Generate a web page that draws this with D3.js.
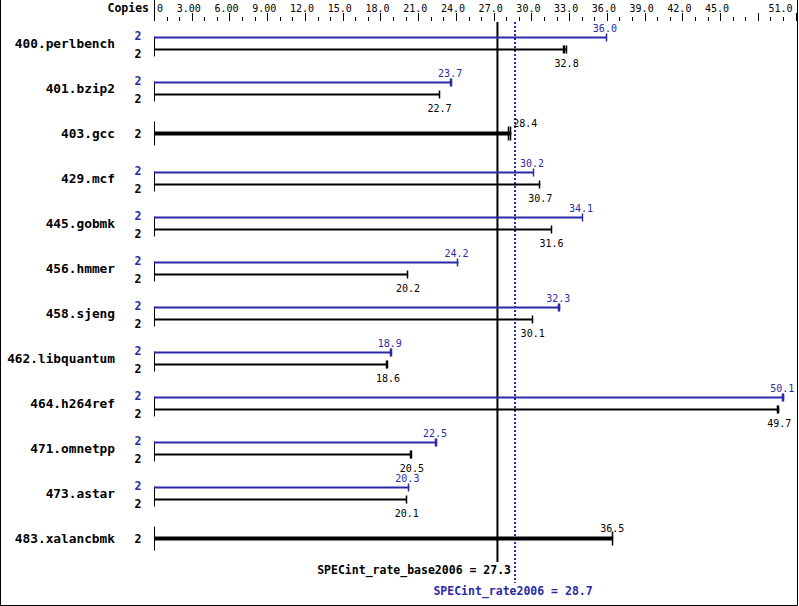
<!DOCTYPE html>
<html>
<head>
<meta charset="utf-8">
<script src="https://d3js.org/d3.v7.min.js"></script>
<style>
  body { margin: 0; background: #fff; }
  text { font-family: "DejaVu Sans Mono", monospace; }
</style>
</head>
<body>
<div id="chart"></div>
<script>
// benchmark names, top to bottom
var benchmarks = ["400.perlbench", "401.bzip2", "403.gcc", "429.mcf", "445.gobmk", "456.hmmer",
                  "458.sjeng", "462.libquantum", "464.h264ref", "471.omnetpp", "473.astar", "483.xalancbmk"];
// peak (blue) and base (black) ratios; null peak = only base reported
var peakValues = [36.0, 23.7, null, 30.2, 34.1, 24.2, 32.3, 18.9, 50.1, 22.5, 20.3, null];
var baseValues = [32.8, 22.7, 28.4, 30.7, 31.6, 20.2, 30.1, 18.6, 49.7, 20.5, 20.1, 36.5];
// individual run results (small end ticks)
var peakRuns = [[36.0], [23.6, 23.7], null, [30.2], [34.1], [24.2], [32.2, 32.3], [18.8, 18.9],
                [50.0, 50.1], [22.4, 22.5], [20.3], null];
var baseRuns = [[32.6, 32.7, 32.8], [22.7], [28.2, 28.4], [30.7], [31.6], [20.2], [30.1], [18.5, 18.6],
                [49.6, 49.7], [20.4, 20.5], [20.1], [36.5]];
var copies = 2;
var tickLabels = ["0", "3.00", "6.00", "9.00", "12.0", "15.0", "18.0", "21.0", "24.0", "27.0",
                  "30.0", "33.0", "36.0", "39.0", "42.0", "45.0", "", "51.0"];
var baseMean = 27.3, peakMean = 28.7;

var width = 799, height = 606;
var blue = "#2a2aa6";

var svg = d3.select("#chart").append("svg")
    .attr("width", width)
    .attr("height", height);

var x = d3.scaleLinear().domain([0, 51]).range([154, 795.6]);
var y = d3.scalePoint().domain(benchmarks).range([43.5, 538.5]);

// frame
svg.append("path")
    .attr("d", "M0.5,0V605.5H797.5V0")
    .attr("fill", "none").attr("stroke", "#000");

// top axis
svg.append("text").attr("x", 149).attr("y", 12).attr("text-anchor", "end")
    .attr("font-size", 11.5).attr("font-weight", "bold").text("Copies");
svg.append("line").attr("x1", 154.5).attr("x2", 154.5).attr("y1", 0).attr("y2", 21)
    .attr("stroke", "#000");

svg.selectAll(".minor").data(d3.range(1, 52)).enter().append("line")
    .attr("x1", function(d) { return Math.round(x(d)) + 0.5; })
    .attr("x2", function(d) { return Math.round(x(d)) + 0.5; })
    .attr("y1", function(d) { return d % 3 == 0 ? 13 : 17; })
    .attr("y2", 21)
    .attr("stroke", "#000");

svg.selectAll(".ticklabel").data(tickLabels).enter().append("text")
    .attr("x", function(d, i) {
        if (i == 0) return x(0) + 3;
        return x(i * 3) - 3;
    })
    .attr("y", 12)
    .attr("font-size", 10)
    .attr("text-anchor", function(d, i) {
        if (i == 0) return "start";
        if (i == tickLabels.length - 1) return "end";
        return "middle";
    })
    .text(function(d) { return d; });

// mean lines
svg.append("line").attr("x1", x(baseMean)).attr("x2", x(baseMean)).attr("y1", 22).attr("y2", 562)
    .attr("stroke", "#000").attr("stroke-width", 2);
svg.append("line").attr("x1", x(peakMean)).attr("x2", x(peakMean)).attr("y1", 22).attr("y2", 583)
    .attr("stroke", blue).attr("stroke-width", 2).attr("stroke-dasharray", "2,2");
svg.append("text").attr("x", x(peakMean) - 4).attr("y", 574).attr("text-anchor", "end")
    .attr("font-size", 11.5).attr("font-weight", "bold")
    .text("SPECint_rate_base2006 = " + baseMean);
svg.append("text").attr("x", x(peakMean) - 2).attr("y", 595).attr("text-anchor", "middle")
    .attr("font-size", 11.5).attr("font-weight", "bold").attr("fill", blue)
    .text("SPECint_rate2006 = " + peakMean);

// rows
var rows = svg.selectAll(".row").data(benchmarks).enter().append("g")
    .attr("class", "row")
    .attr("transform", function(d) { return "translate(0," + y(d) + ")"; });

rows.each(function(name, i) {
    var g = d3.select(this);
    var single = peakValues[i] == null;

    g.append("text").attr("x", 115).attr("y", 4).attr("text-anchor", "end")
        .attr("font-size", 12.8).attr("font-weight", "bold").text(name);

    g.append("line").attr("x1", x(0) + 0.5).attr("x2", x(0) + 0.5)
        .attr("y1", single ? -12 : -7).attr("y2", single ? 12 : 13)
        .attr("stroke", "#000");

    if (single) {
        g.append("text").attr("x", 138).attr("y", 4).attr("text-anchor", "middle")
            .attr("font-size", 11.5).attr("font-weight", "bold").text(copies);
        g.append("line").attr("x1", x(0)).attr("x2", x(baseValues[i])).attr("y1", 0).attr("y2", 0)
            .attr("stroke", "#000").attr("stroke-width", 4);
        g.selectAll(".run").data(baseRuns[i]).enter().append("line")
            .attr("x1", function(d) { return Math.round(x(d)) - 0.5; })
            .attr("x2", function(d) { return Math.round(x(d)) - 0.5; })
            .attr("y1", -7).attr("y2", 7)
            .attr("stroke", "#000").attr("stroke-width", 1.5);
        var nearMean = Math.abs(x(baseValues[i]) - x(peakMean)) < 20;
        g.append("text")
            .attr("x", nearMean ? x(baseValues[i]) + 2 : x(baseValues[i]) - 1)
            .attr("y", -7)
            .attr("text-anchor", nearMean ? "start" : "middle")
            .attr("font-size", 10).text(baseValues[i].toFixed(1));
        return;
    }

    // peak
    g.append("text").attr("x", 138).attr("y", -4).attr("text-anchor", "middle")
        .attr("font-size", 11.5).attr("font-weight", "bold").attr("fill", blue).text(copies);
    g.append("line").attr("x1", x(0)).attr("x2", x(peakValues[i])).attr("y1", -6).attr("y2", -6)
        .attr("stroke", blue).attr("stroke-width", 2);
    g.selectAll(".prun").data(peakRuns[i]).enter().append("line")
        .attr("x1", function(d) { return Math.round(x(d)) - 0.5; })
        .attr("x2", function(d) { return Math.round(x(d)) - 0.5; })
        .attr("y1", -10).attr("y2", -2)
        .attr("stroke", blue).attr("stroke-width", 1.5);
    g.append("text").attr("x", x(peakValues[i]) - 2).attr("y", -12).attr("text-anchor", "middle")
        .attr("font-size", 10).attr("fill", blue).text(peakValues[i].toFixed(1));

    // base
    g.append("text").attr("x", 138).attr("y", 14).attr("text-anchor", "middle")
        .attr("font-size", 11.5).attr("font-weight", "bold").text(copies);
    g.append("line").attr("x1", x(0)).attr("x2", x(baseValues[i])).attr("y1", 6).attr("y2", 6)
        .attr("stroke", "#000").attr("stroke-width", 2);
    g.selectAll(".brun").data(baseRuns[i]).enter().append("line")
        .attr("x1", function(d) { return Math.round(x(d)) - 0.5; })
        .attr("x2", function(d) { return Math.round(x(d)) - 0.5; })
        .attr("y1", 2).attr("y2", 10)
        .attr("stroke", "#000").attr("stroke-width", 1.5);
    g.append("text").attr("x", x(baseValues[i])).attr("y", 23).attr("text-anchor", "middle")
        .attr("font-size", 10).text(baseValues[i].toFixed(1));
});
</script>
</body>
</html>
